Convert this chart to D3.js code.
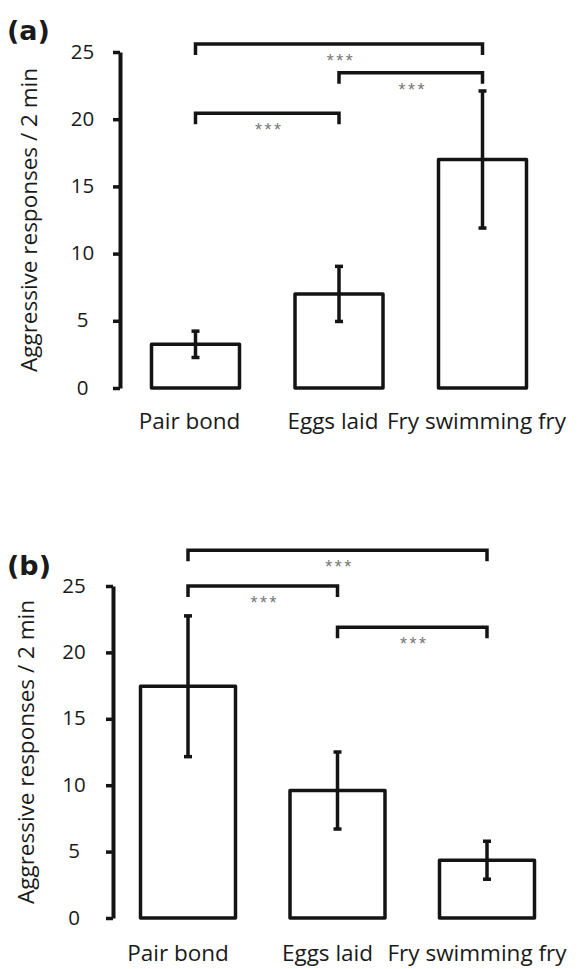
<!DOCTYPE html>
<meta charset="utf-8">
<style>
body { margin: 0; background: #fff; }
svg { display: block; }
.bar { fill: #fff; stroke: #141414; stroke-width: 3.5px; stroke-linejoin: round; }
.err line { stroke: #141414; stroke-width: 3.5px; }
.bracket { fill: none; stroke: #141414; stroke-width: 3.5px; }
.stars { font-family: "Liberation Sans", Arial, sans-serif; font-size: 18px; fill: #777; letter-spacing: 2.5px; }
.axis .domain { stroke: #141414; stroke-width: 4px; }
.axis .tick line { stroke: #141414; stroke-width: 3.5px; }
.axis .tick text { font-family: "Open Sans", sans-serif; font-size: 20.5px; fill: #1a1a1a; }
.cat { font-family: "Open Sans", sans-serif; font-size: 22.5px; fill: #1a1a1a; }
.ylab { font-family: "Open Sans", sans-serif; font-size: 22.5px; fill: #1a1a1a; }
.panel { font-family: "DejaVu Sans", sans-serif; font-weight: bold; font-size: 27px; fill: #1a1a1a; }
</style>
<svg width="583" height="969"></svg>
<script src="https://cdn.jsdelivr.net/npm/d3@7"></script>
<script>

// data
var categories = ["Pair bond", "Eggs laid", "Fry swimming fry"];
var yTicks = [0, 5, 10, 15, 20, 25];

var meansA = [3.25, 7.0, 17.0];
var errA   = [0.98, 2.05, 5.1];
var bracketPairsA  = [[0, 2], [1, 2], [0, 1]];
var bracketLevelsA = [25.6, 23.45, 20.45];

var meansB = [17.45, 9.6, 4.35];
var errB   = [5.3, 2.9, 1.43];
var bracketPairsB  = [[0, 2], [0, 1], [1, 2]];
var bracketLevelsB = [27.7, 25.0, 21.9];

var svg = d3.select("svg");

function drawPanel(opt) {
  var g = svg.append("g");

  var y = d3.scaleLinear().domain([0, 25]).range(opt.yRange);
  var x = d3.scalePoint().domain(d3.range(categories.length)).range(opt.xRange);

  // y axis
  var axis = g.append("g")
      .attr("class", "axis")
      .attr("transform", "translate(" + opt.axisX + ",0)")
      .call(d3.axisLeft(y).tickValues(yTicks).tickSize(7).tickSizeOuter(0));
  axis.selectAll(".tick text")
      .attr("text-anchor", "middle")
      .attr("x", opt.tickLabelX - opt.axisX)
      .attr("dy", "0.3em");

  // bars
  g.selectAll("rect.bar")
    .data(opt.means)
    .enter().append("rect")
      .attr("class", "bar")
      .attr("x", function(d, i) { return x(i) - opt.barW / 2; })
      .attr("y", function(d) { return y(d); })
      .attr("width", opt.barW)
      .attr("height", function(d) { return y(0) - y(d); });

  // error bars
  var err = g.selectAll("g.err")
    .data(opt.means)
    .enter().append("g")
      .attr("class", "err");
  err.append("line")
      .attr("x1", function(d, i) { return x(i); })
      .attr("x2", function(d, i) { return x(i); })
      .attr("y1", function(d, i) { return y(d - opt.err[i]); })
      .attr("y2", function(d, i) { return y(d + opt.err[i]); });
  [-1, 1].forEach(function(s) {
    err.append("line")
        .attr("x1", function(d, i) { return x(i) - 4; })
        .attr("x2", function(d, i) { return x(i) + 4; })
        .attr("y1", function(d, i) { return y(d + s * opt.err[i]); })
        .attr("y2", function(d, i) { return y(d + s * opt.err[i]); });
  });

  // significance brackets
  opt.pairs.forEach(function(p, k) {
    var by = y(opt.levels[k]);
    var x1 = x(p[0]), x2 = x(p[1]);
    g.append("path")
        .attr("class", "bracket")
        .attr("d", "M" + x1 + "," + (by + 11) + "V" + by + "H" + x2 + "V" + (by + 11));
    g.append("text")
        .attr("class", "stars")
        .attr("x", (x1 + x2) / 2 + 2)
        .attr("y", by + 23)
        .attr("text-anchor", "middle")
        .text("***");
  });

  // category labels
  g.selectAll("text.cat")
    .data(categories)
    .enter().append("text")
      .attr("class", "cat")
      .attr("x", function(d, i) { return x(i) + opt.catShift; })
      .attr("y", opt.catY)
      .attr("text-anchor", "middle")
      .text(function(d) { return d; });

  // y label
  g.append("text")
      .attr("class", "ylab")
      .attr("transform", "translate(" + opt.yLabX + "," + opt.yLabY + ") rotate(-90)")
      .attr("text-anchor", "middle")
      .attr("dy", "0.35em")
      .text("Aggressive responses / 2 min");

  // panel letter
  g.append("text")
      .attr("class", "panel")
      .attr("x", opt.letterX)
      .attr("y", opt.letterY)
      .text(opt.letter);
}

drawPanel({
  letter: "(a)", letterX: 7, letterY: 40,
  means: meansA, err: errA, pairs: bracketPairsA, levels: bracketLevelsA,
  yRange: [388, 52], xRange: [195.5, 482.5], barW: 88,
  axisX: 120, tickLabelX: 82.5,
  catY: 429, catShift: -6,
  yLabX: 29, yLabY: 220
});

drawPanel({
  letter: "(b)", letterX: 7, letterY: 575,
  means: meansB, err: errB, pairs: bracketPairsB, levels: bracketLevelsB,
  yRange: [918, 586], xRange: [188, 487], barW: 95,
  axisX: 113, tickLabelX: 74,
  catY: 961, catShift: -10,
  yLabX: 26, yLabY: 752
});

</script>
